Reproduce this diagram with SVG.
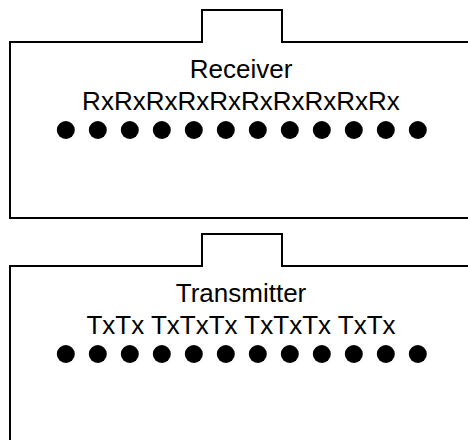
<svg xmlns="http://www.w3.org/2000/svg" width="468" height="440" viewBox="0 0 468 440">
  <style>
    .box { fill: #ffffff; stroke: #000000; stroke-width: 2; stroke-linejoin: miter; }
    .label { font-family: "Liberation Sans", Arial, sans-serif; font-size: 26px; fill: #000000; text-anchor: middle; }
    .pin { fill: #000000; }
  </style>
  <defs>
    <!-- one row of twelve pins, spaced 32px apart -->
    <g id="pinRow">
      <circle class="pin" cx="65.8" cy="0" r="9"/>
      <circle class="pin" cx="97.8" cy="0" r="9"/>
      <circle class="pin" cx="129.8" cy="0" r="9"/>
      <circle class="pin" cx="161.8" cy="0" r="9"/>
      <circle class="pin" cx="193.8" cy="0" r="9"/>
      <circle class="pin" cx="225.8" cy="0" r="9"/>
      <circle class="pin" cx="257.8" cy="0" r="9"/>
      <circle class="pin" cx="289.8" cy="0" r="9"/>
      <circle class="pin" cx="321.8" cy="0" r="9"/>
      <circle class="pin" cx="353.8" cy="0" r="9"/>
      <circle class="pin" cx="385.8" cy="0" r="9"/>
      <circle class="pin" cx="417.8" cy="0" r="9"/>
    </g>
  </defs>
  <rect width="468" height="440" fill="#ffffff"/>

  <!-- receiver housing with top latch tab -->
  <g id="receiver">
    <path class="box" d="M10 218 V42 H202 V10 H282 V42 H480 V218 Z"/>
    <text class="label" x="241" y="78">Receiver</text>
    <text class="label" x="241" y="110">RxRxRxRxRxRxRxRxRxRx</text>
    <use href="#pinRow" y="130"/>
  </g>

  <!-- transmitter housing with top latch tab -->
  <g id="transmitter">
    <path class="box" d="M10 460 V266 H202 V234 H282 V266 H480 V460 Z"/>
    <text class="label" x="241" y="302">Transmitter</text>
    <text class="label" x="241" y="334">TxTx TxTxTx TxTxTx TxTx</text>
    <use href="#pinRow" y="354"/>
  </g>
</svg>
